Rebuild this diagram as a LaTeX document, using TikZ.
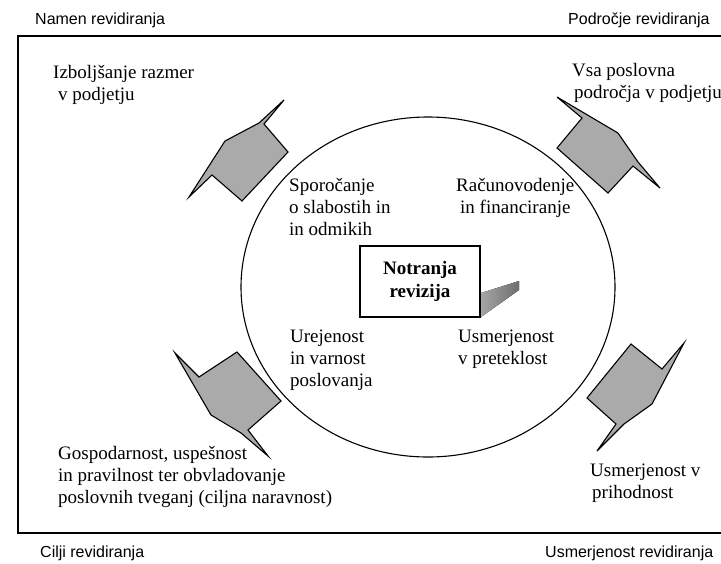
\documentclass[tikz,border=0pt]{standalone}
\usepackage{fontspec}
\setmainfont{Liberation Serif}
\newfontfamily\labelsans{Liberation Sans}
\usetikzlibrary{shapes.geometric}
\definecolor{calloutfill}{RGB}{170,170,170}
\definecolor{wedgelight}{RGB}{165,165,165}
\definecolor{wedgedark}{RGB}{110,110,110}

\begin{document}
\begin{tikzpicture}[x=1pt,y=-1pt,
  corner/.style={font=\labelsans\fontsize{16}{19}\selectfont, anchor=base west, inner sep=0pt},
  body/.style={font=\fontsize{19}{22}\selectfont, align=left, anchor=north west, inner sep=0pt},
  callout/.style={draw=black, fill=calloutfill, line width=1.1pt, line join=miter},
]
\useasboundingbox (0,0) rectangle (721,563);
\fill[white] (0,0) rectangle (721,563);

% open frame
\draw[line width=1.1pt] (721,36) -- (18,36) -- (18,533) -- (721,533);

% central ellipse and box
\node[ellipse, draw, line width=1.1pt, minimum width=374pt, minimum height=340pt, inner sep=0pt] (audit) at (428,287) {};
\node[draw, line width=1.4pt, minimum width=120pt, minimum height=71pt, inner sep=0pt, align=center,
      font=\bfseries\fontsize{19}{23}\selectfont] (ir) at (420,281.5) {Notranja\\revizija};
\fill[left color=wedgelight, right color=wedgedark]
  (481,293) -- (519,281) -- (519,290) -- (481,317) -- cycle;

% four callout arrows
\draw[callout] (284,100) -- (264,124) -- (288,152) -- (242,201) -- (212,175) -- (189,197) -- (225,141) -- (259,123) -- cycle;
\draw[callout] (557,97) -- (618,133) -- (638,162) -- (660,188) -- (633,166) -- (608,193) -- (557,148) -- (582,118) -- cycle;
\draw[callout] (175,353) -- (199,377) -- (237,352) -- (281,401) -- (248,430) -- (268,456) -- (241,433) -- (211,415) -- cycle;
\draw[callout] (631,344) -- (662,369) -- (684,343) -- (652,404) -- (624,424) -- (597,451) -- (616,424) -- (587,398) -- cycle;

% corner headings
\node[corner] (purpose) at (35,24) {Namen revidiranja};
\node[corner] (scope) at (568,24) {Področje revidiranja};
\node[corner] (goals) at (40,557) {Cilji revidiranja};
\node[corner] (focus) at (545,557) {Usmerjenost revidiranja};

% texts
\node[body] (improve) at (53,65) {Izboljšanje razmer\\\hspace{5pt}v podjetju};
\node[body] (areas) at (572,63) {Vsa poslovna\\\hspace{2pt}področja v podjetju};
\node[body] (report) at (289,178) {Sporočanje\\o slabostih in\\in odmikih};
\node[body] (acct) at (456,178) {Računovodenje\\\hspace{4pt}in financiranje};
\node[body] (order) at (290,330) {Urejenost\\in varnost\\poslovanja};
\node[body] (past) at (458,330) {Usmerjenost\\v preteklost};
\node[body] (econ) at (58,446) {Gospodarnost, uspešnost\\in pravilnost ter obvladovanje\\poslovnih tveganj (ciljna naravnost)};
\node[body] (future) at (590,464) {Usmerjenost v\\\hspace{2pt}prihodnost};
\end{tikzpicture}
\end{document}
